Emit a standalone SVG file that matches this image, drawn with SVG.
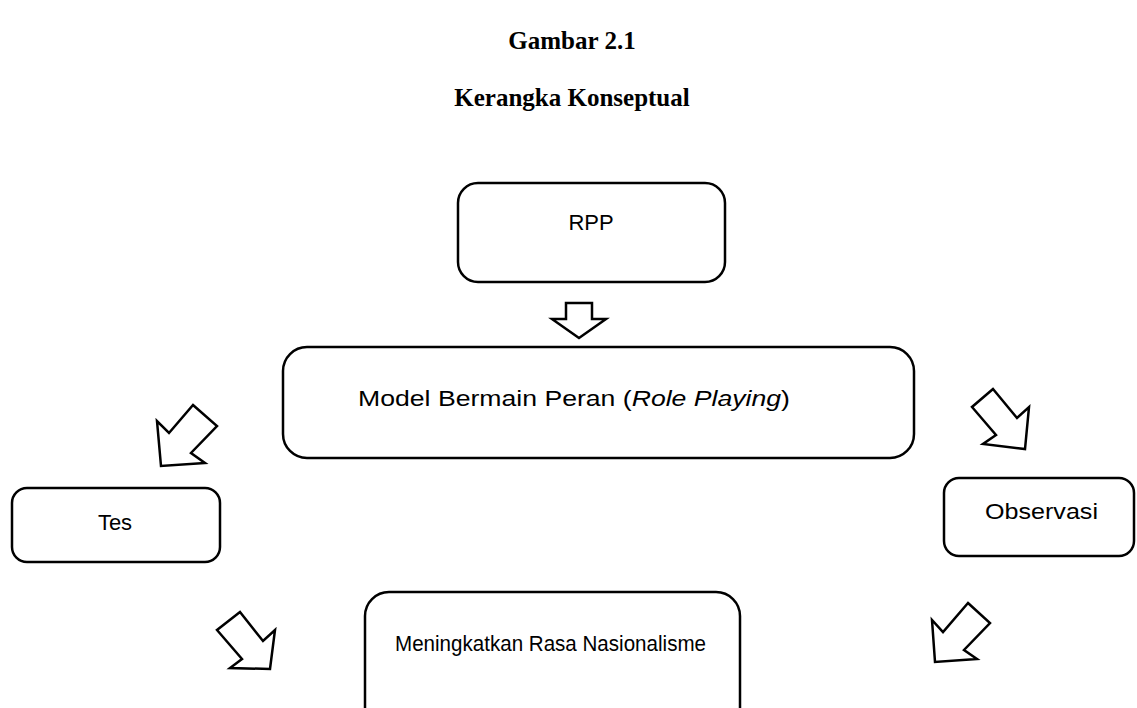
<svg xmlns="http://www.w3.org/2000/svg" width="1137" height="708" viewBox="0 0 1137 708">
<style>
.box{fill:#fff;stroke:#000;stroke-width:2.5}
.arr{fill:#fff;stroke:#000;stroke-width:2.5;stroke-linejoin:miter}
.t{font-family:"Liberation Sans",Arial,sans-serif;font-size:22px;fill:#000}
.h{font-family:"Liberation Serif","Times New Roman",serif;font-size:25px;font-weight:bold;fill:#000;text-anchor:middle}
</style>
<rect width="1137" height="708" fill="#fff"/>
<g id="title">
<text class="h" x="572" y="49">Gambar 2.1</text>
<text class="h" x="572" y="106">Kerangka Konseptual</text>
</g>
<g id="connectors">
<polygon class="arr" points="566,303 592,303 592,319 606,319 579,338 552,319 566,319"/>
<polygon class="arr" points="193,405 217,426 191,453 205,463 161,466 157,421 169,433"/>
<polygon class="arr" points="993,389 972,407 996,435 983,444 1025,449 1029,407 1017,418"/>
<polygon class="arr" points="240,612 217,630 242,659 230,668 270,669 275,630 263,641"/>
<polygon class="arr" points="968,603 990,623 964,650 977,659 935,662 932,620 943,632"/>
</g>
<g id="rpp">
<rect class="box" x="458" y="183" width="267" height="99" rx="20"/>
<text class="t" x="591" y="230" text-anchor="middle" font-size="23">RPP</text>
</g>
<g id="model">
<rect class="box" x="283" y="347" width="631" height="111" rx="24"/>
<text class="t" x="358" y="406" textLength="432" lengthAdjust="spacingAndGlyphs">Model Bermain Peran (<tspan font-style="italic">Role Playing</tspan>)</text>
</g>
<g id="tes">
<rect class="box" x="12" y="488" width="208" height="74" rx="15"/>
<text class="t" x="115" y="530" text-anchor="middle" font-size="23">Tes</text>
</g>
<g id="observasi">
<rect class="box" x="944" y="478" width="190" height="78" rx="15"/>
<text class="t" x="985" y="519" font-size="23" textLength="113" lengthAdjust="spacingAndGlyphs">Observasi</text>
</g>
<g id="nasionalisme">
<rect class="box" x="365" y="592" width="375" height="140" rx="24"/>
<text class="t" x="395" y="651" font-size="21" textLength="311" lengthAdjust="spacingAndGlyphs">Meningkatkan Rasa Nasionalisme</text>
</g>
</svg>
